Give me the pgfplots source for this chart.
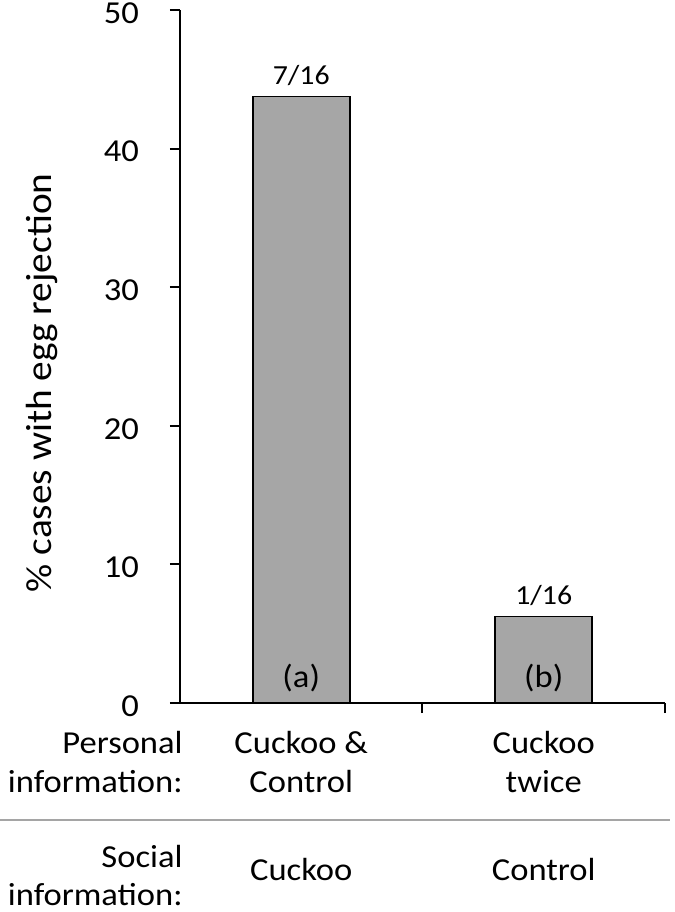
\documentclass[border=0pt]{standalone}
\usepackage{fontspec}
\setmainfont{Carlito}[FakeStretch=1.08]
\usepackage{pgfplots}
\pgfplotsset{compat=1.18}
\definecolor{barfill}{RGB}{166,166,166}
\definecolor{rulegray}{RGB}{165,165,165}

\newcommand{\catfont}{\fontsize{16}{19}\selectfont}

\begin{document}
\begin{tikzpicture}
% page = 675x912 px at 0.5pt per px
\useasboundingbox (-90pt,-104.5pt) rectangle (247.5pt,351.5pt);
\begin{axis}[
    at={(0pt,0pt)}, anchor=south west,
    scale only axis,
    width=242.5pt, height=346.5pt,
    xmin=0, xmax=2, ymin=0, ymax=50,
    axis x line*=bottom, axis y line*=left,
    axis line style={black, line width=1pt},
    xtick={1,2}, xticklabels={},
    ytick={0,10,20,30,40,50},
    tick align=outside, major tick length=5pt,
    tick style={black, line width=1pt},
    /pgf/number format/assume math mode=true,
    yticklabel style={font=\fontsize{16}{19}\selectfont, xshift=-12pt, yshift=-1.5pt},
    clip=false,
]
\addplot[ybar, bar width=48.5pt, fill=barfill, draw=black, line width=0.8pt,
    nodes near coords, point meta=explicit symbolic,
    every node near coord/.style={font=\fontsize{13.8}{16}\selectfont, black, anchor=south, yshift=1.5pt}]
    coordinates {(0.5,43.75) [7/16] (1.5,6.25) [1/16]};

\node[font=\catfont] at ([yshift=12.5pt]axis cs:0.5,0) {(a)};
\node[font=\catfont] at ([yshift=12.5pt]axis cs:1.5,0) {(b)};

\node[anchor=base, font=\catfont] at ([yshift=-25pt]axis cs:0.5,0) {Cuckoo \&};
\node[anchor=base, font=\catfont] at ([yshift=-44.5pt]axis cs:0.5,0) {Control};
\node[anchor=base, font=\catfont] at ([yshift=-25pt]axis cs:1.5,0) {Cuckoo};
\node[anchor=base, font=\catfont] at ([yshift=-44.5pt]axis cs:1.5,0) {twice};
\node[anchor=base, font=\catfont] at ([yshift=-88.5pt]axis cs:0.5,0) {Cuckoo};
\node[anchor=base, font=\catfont] at ([yshift=-88.5pt]axis cs:1.5,0) {Control};
\end{axis}

\node[anchor=base east, inner sep=0pt, font=\catfont] at (1.5pt,-25pt) {Personal};
\node[anchor=base east, inner sep=0pt, font=\catfont] at (1.5pt,-44.5pt) {information:};
\node[anchor=base east, inner sep=0pt, font=\catfont] at (1.5pt,-82pt) {Social};
\node[anchor=base east, inner sep=0pt, font=\catfont] at (1.5pt,-101pt) {information:};
\draw[rulegray, line width=0.8pt] (-90pt,-58.5pt) -- (245pt,-58.5pt);

\node[rotate=90, font=\fontsize{18.2}{21}\selectfont] at (-69pt,160pt) {\% cases with egg rejection};
\end{tikzpicture}
\end{document}
